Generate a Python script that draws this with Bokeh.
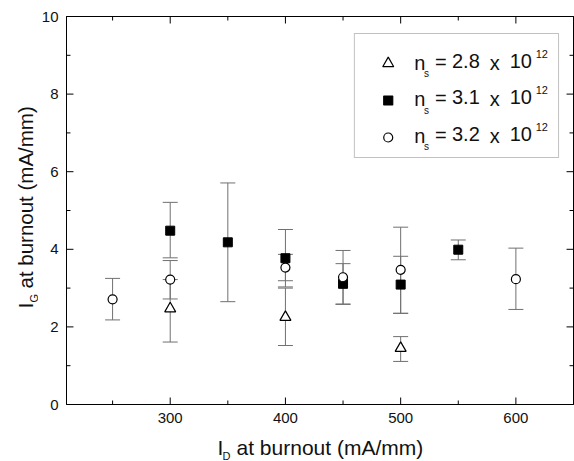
import math
from bokeh.plotting import figure
from bokeh.layouts import column, row
from bokeh.models import (Range1d, LinearAxis, SingleIntervalTicker, Whisker, TeeHead,
                          ColumnDataSource, Label, BoxAnnotation)
from bokeh.embed import file_html
from bokeh.resources import INLINE

# ---------------- data ----------------
tri_x = [300, 400, 500]
tri_y = [2.47, 2.25, 1.45]
tri_lo = [1.61, 1.52, 1.11]
tri_hi = [3.22, 3.00, 1.75]

sq_x = [300, 350, 400, 450, 500, 550]
sq_y = [4.48, 4.18, 3.77, 3.11, 3.09, 3.99]
sq_lo = [3.78, 2.65, 3.03, 2.58, 2.35, 3.73]
sq_hi = [5.21, 5.71, 4.51, 3.63, 3.82, 4.24]

ci_x = [250, 300, 400, 450, 500, 600]
ci_y = [2.71, 3.22, 3.53, 3.28, 3.47, 3.23]
ci_lo = [2.18, 2.72, 3.19, 2.59, 2.35, 2.45]
ci_hi = [3.25, 3.71, 3.87, 3.97, 4.57, 4.03]

x_major_ticks = [300, 400, 500, 600]
x_minor_ticks = [250, 350, 450, 550]
y_major_ticks = [2, 4, 6, 8]
y_minor_ticks = [1, 3, 5, 7, 9]

series_ns = ["2.8", "3.1", "3.2"]
exponent = "12"
x_title = ["I", "D", "at burnout (mA/mm)"]
y_title = ["I", "G", "at burnout (mA/mm)"]

# ---------------- layout ----------------
W, H = 574, 461
YT_W = 38                 # strip holding the y title
MAIN_H = 434              # main figure height (frame + tick labels)
FL, FR, FT, FB = 64, 573, 16, 404          # frame edges in window pixels
XR = (210, 650)
YR = (0, 10)
FONT = "Liberation Sans"
EB = "#707070"
INK = "#111111"
MAJ_PX, MIN_PX = 7, 4     # inward tick lengths


def strip(w, h, top, bottom, y0, y1):
    f = figure(width=w, height=h, x_range=Range1d(0, w), y_range=Range1d(y1, y0),
               output_backend="svg", toolbar_location=None,
               min_border_left=0, min_border_right=0,
               min_border_top=top, min_border_bottom=bottom,
               x_axis_location=None, y_axis_location=None)
    f.grid.visible = False
    f.outline_line_color = None
    f.background_fill_color = "white"
    f.border_fill_color = "white"
    return f


p = figure(width=W - YT_W, height=MAIN_H, x_range=Range1d(*XR), y_range=Range1d(*YR),
           output_backend="svg", toolbar_location=None,
           min_border_left=FL - YT_W, min_border_right=W - FR, min_border_top=FT,
           min_border_bottom=MAIN_H - FB)
p.grid.visible = False
p.outline_line_color = "black"
p.outline_line_width = 1
p.background_fill_color = "white"
p.border_fill_color = "white"

KX = (XR[1] - XR[0]) / (FR - FL)    # data units per pixel
KY = (YR[1] - YR[0]) / (FB - FT)


def dx(px):
    return XR[0] + (px - FL) * KX


def dy(py):
    return YR[0] + (FB - py) * KY


def style(ax, labels):
    ax.axis_line_color = "black"
    ax.axis_line_width = 1
    ax.major_tick_in = 0
    ax.major_tick_out = 0
    ax.minor_tick_in = 0
    ax.minor_tick_out = 0
    ax.axis_label = None
    if labels:
        ax.major_label_text_font = FONT
        ax.major_label_text_font_size = "15px"
        ax.major_label_text_color = INK
        ax.major_label_standoff = 8
    else:
        ax.major_label_text_font_size = "1px"
        ax.major_label_text_color = None
        ax.major_label_standoff = 0


p.xaxis.ticker = SingleIntervalTicker(interval=100, num_minor_ticks=2)
p.yaxis.ticker = SingleIntervalTicker(interval=2, num_minor_ticks=2)
style(p.xaxis[0], True)
style(p.yaxis[0], True)
top = LinearAxis(ticker=SingleIntervalTicker(interval=100, num_minor_ticks=2))
right = LinearAxis(ticker=SingleIntervalTicker(interval=2, num_minor_ticks=2))
style(top, False)
style(right, False)
p.add_layout(top, "above")
p.add_layout(right, "right")

# inward tick marks on all four sides
for ticks, L in [(x_major_ticks, MAJ_PX), (x_minor_ticks, MIN_PX)]:
    n = len(ticks)
    p.segment(ticks, [YR[0]] * n, ticks, [YR[0] + L * KY] * n, line_color="black", line_width=1)
    p.segment(ticks, [YR[1]] * n, ticks, [YR[1] - L * KY] * n, line_color="black", line_width=1)
for ticks, L in [(y_major_ticks, MAJ_PX), (y_minor_ticks, MIN_PX)]:
    n = len(ticks)
    p.segment([XR[0]] * n, ticks, [XR[0] + L * KX] * n, ticks, line_color="black", line_width=1)
    p.segment([XR[1]] * n, ticks, [XR[1] - L * KX] * n, ticks, line_color="black", line_width=1)

# ---------------- error bars + markers ----------------
for xs, ys, lo, hi in [(tri_x, tri_y, tri_lo, tri_hi),
                       (sq_x, sq_y, sq_lo, sq_hi),
                       (ci_x, ci_y, ci_lo, ci_hi)]:
    src = ColumnDataSource(dict(x=xs, y=ys, lo=lo, hi=hi))
    w = Whisker(source=src, base="x", lower="lo", upper="hi", dimension="height",
                line_color=EB, line_width=1,
                upper_head=TeeHead(size=15, line_color=EB, line_width=1),
                lower_head=TeeHead(size=15, line_color=EB, line_width=1))
    p.add_layout(w)

p.scatter(tri_x, tri_y, marker="triangle", size=11, fill_color="white",
          line_color="black", line_width=1.2)
p.scatter(sq_x, sq_y, marker="square", size=9, fill_color="black",
          line_color="black", line_width=1)
p.scatter(ci_x, ci_y, marker="circle", size=9, fill_color="white",
          line_color="black", line_width=1.2)

# ---------------- legend ----------------
p.add_layout(BoxAnnotation(left=dx(353), right=dx(558), top=dy(33), bottom=dy(157),
                           fill_color="white", fill_alpha=1, line_color="#333333",
                           line_width=1, level="annotation"))
rows_marker_py = [63, 100, 137]
rows_mid_py = [60, 96.5, 133]
markers = [("triangle", 11, "white"), ("square", 9, "black"), ("circle", 9, "white")]
for (mk, sz, fc), mpy in zip(markers, rows_marker_py):
    p.scatter([dx(387)], [dy(mpy)], marker=mk, size=sz, fill_color=fc,
              line_color="black", line_width=1.2, level="overlay")


def lab(fig, text, x, y, size, angle=0.0):
    fig.add_layout(Label(x=x, y=y, text=text, text_font=FONT,
                         text_font_size=f"{size}px", text_color=INK, angle=angle,
                         text_align="left", text_baseline="middle", level="overlay"))


for ns, m in zip(series_ns, rows_mid_py):
    lab(p, "n", dx(413), dy(m + 2), 20)
    lab(p, "s", dx(423), dy(m + 13), 10)
    lab(p, "=", dx(434), dy(m + 1), 20)
    lab(p, ns, dx(451), dy(m), 20)
    lab(p, "x", dx(489), dy(m + 2), 20)
    lab(p, "10", dx(509), dy(m), 20)
    lab(p, exponent, dx(535), dy(m - 7), 11)

# ---------------- axis titles (own strips; y measured in window pixels) ----------------
ytf = strip(YT_W, MAIN_H, FT, MAIN_H - FB, FT, FB)
lab(ytf, y_title[0], 25, 308, 21, math.pi / 2)
lab(ytf, y_title[1], 33, 302, 11, math.pi / 2)
lab(ytf, y_title[2], 25, 288, 20.5, math.pi / 2)

xtf = strip(W, H - MAIN_H, 0, 0, MAIN_H, H)
lab(xtf, x_title[0], 217, 447, 21)
lab(xtf, x_title[1], 222, 455, 11)
lab(xtf, x_title[2], 236, 447, 21)

layout = column(row(ytf, p, spacing=0), xtf, spacing=0)
open("out.html", "w").write(file_html(layout, INLINE))
